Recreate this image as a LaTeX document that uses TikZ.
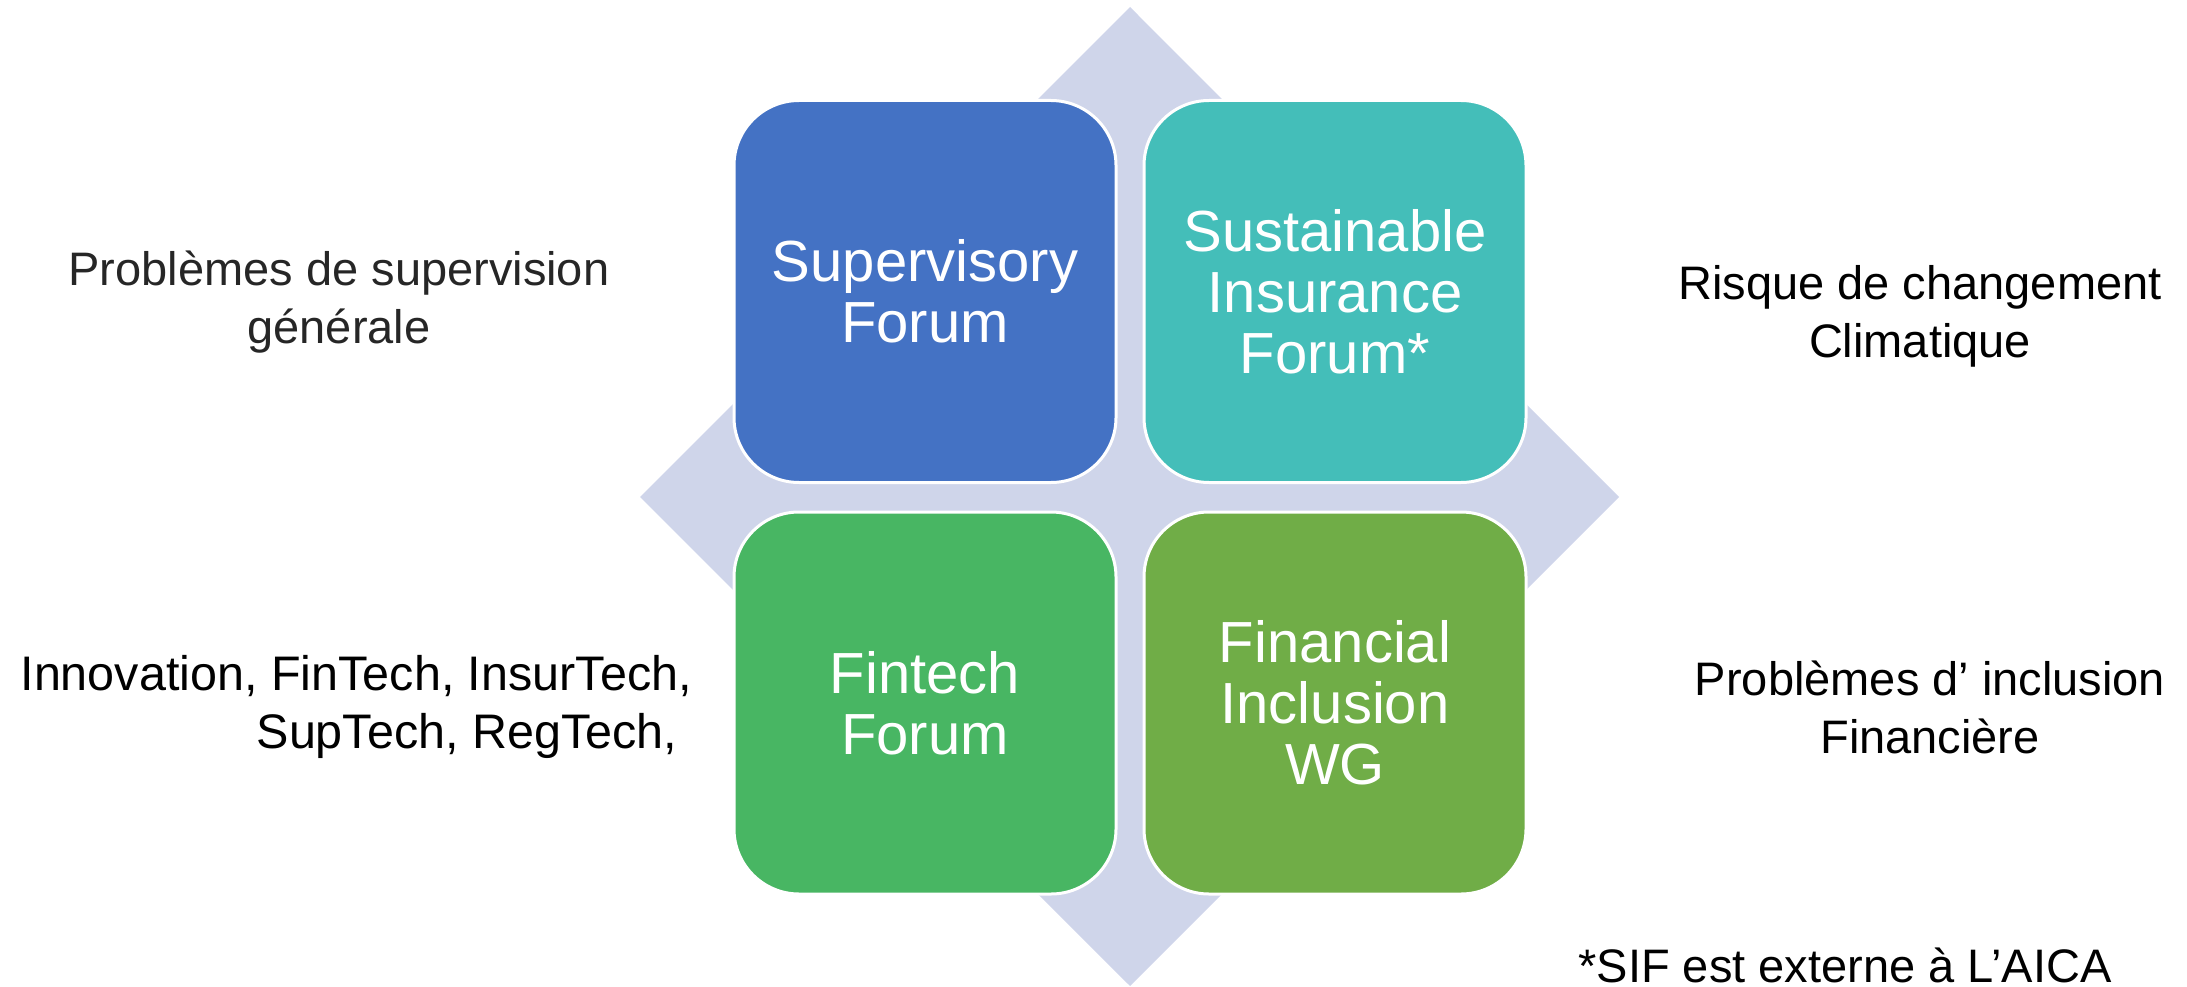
\documentclass[tikz,border=0pt]{standalone}
\usepackage{fontspec}
\setmainfont{Liberation Sans}
\definecolor{supblue}{HTML}{4472C4}
\definecolor{sifteal}{HTML}{44BEB9}
\definecolor{fingreen}{HTML}{48B663}
\definecolor{wggreen}{HTML}{70AD47}
\definecolor{diamondgray}{HTML}{CFD5EA}
\definecolor{darktext}{HTML}{262626}
\begin{document}
\begin{tikzpicture}[x=1pt,y=-1pt]

        \useasboundingbox (0,0) rectangle (2187,987);
        \fill[diamondgray] (1130,7) -- (1619,497) -- (1130,986) -- (640,497) -- cycle;

        \begin{scope}[every node/.style={rectangle, rounded corners=65pt, minimum width=382pt, minimum height=382pt, draw=white, line width=3pt, text=white, align=center, font=\fontsize{58}{61}\selectfont}]
          \node[fill=supblue]  (sup) at (925,291.5)  {Supervisory\\Forum};
          \node[fill=sifteal]  (sif) at (1335,291.5) {Sustainable\\Insurance\\Forum*};
          \node[fill=fingreen] (fin) at (925,703)    {Fintech\\Forum};
          \node[fill=wggreen]  (wg)  at (1335,703)   {Financial\\Inclusion\\WG};
        \end{scope}

        \begin{scope}[every node/.style={align=center, inner sep=0pt, font=\fontsize{47}{58}\selectfont}]
          \node[text=darktext] (gen)  at (339,302)  {Problèmes de supervision\\générale};
          \node                (clim) at (1920,316) {Risque de changement\\Climatique};
          \node[align=right, anchor=east, font=\fontsize{48.5}{58}\selectfont] (tech) at (692,707) {Innovation, FinTech, InsurTech,\\SupTech, RegTech,\hspace*{0.3em}};
          \node                (incl) at (1930,707) {Problèmes d’ inclusion\\Financière};
          \node                (note) at (1845,965) {*SIF est externe à L’AICA};
        \end{scope}

      \end{tikzpicture}
\end{document}
